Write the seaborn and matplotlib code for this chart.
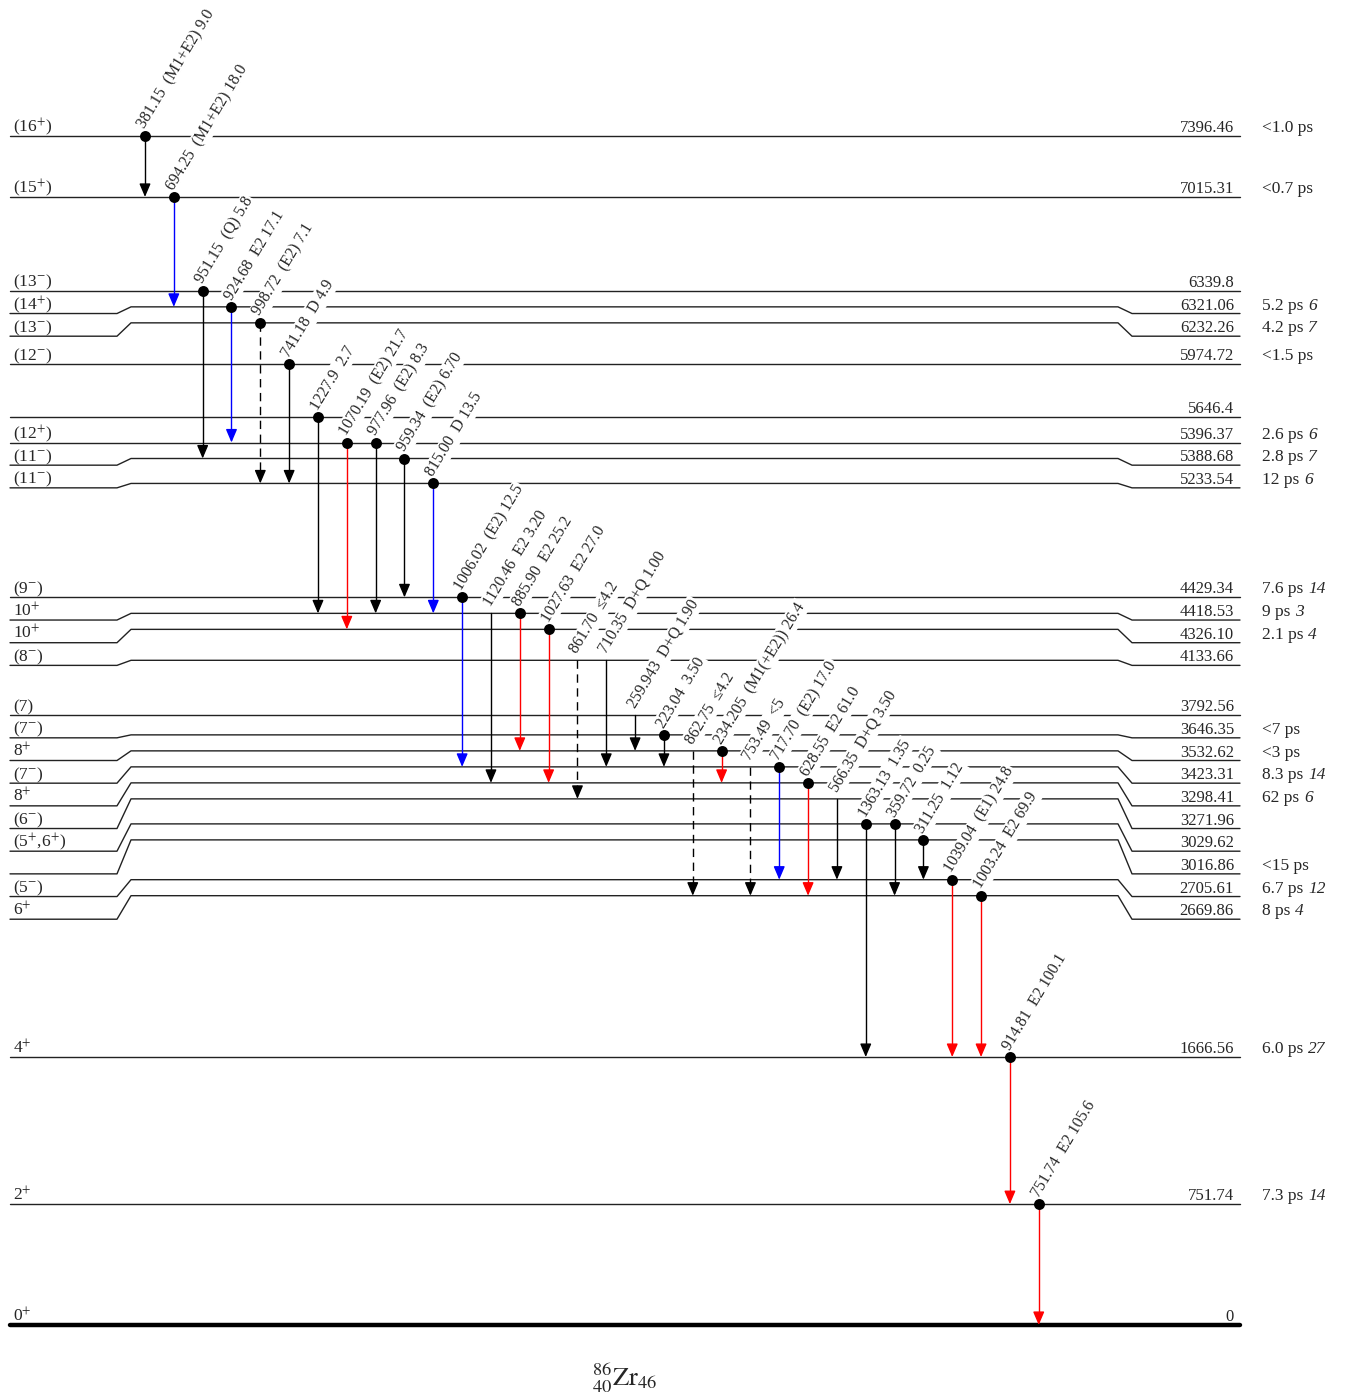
import numpy as np
import pandas as pd
import matplotlib
matplotlib.use("Agg")
import matplotlib.pyplot as plt
import seaborn as sns

# -------------------------------
# Level data (bottom -> top)
# -------------------------------
level_text = ["0", "751.74", "1666.56", "2669.86", "2705.61", "3016.86", "3029.62",
              "3271.96", "3298.41", "3423.31", "3532.62", "3646.35", "3792.56", "4133.66",
              "4326.10", "4418.53", "4429.34", "5233.54", "5388.68", "5396.37", "5646.4",
              "5974.72", "6232.26", "6321.06", "6339.8", "7015.31", "7396.46"]
spins = ["0$^{+}$", "2$^{+}$", "4$^{+}$", "6$^{+}$", "(5$^{-}$)", "", "(5$^{+}$,6$^{+}$)",
         "(6$^{-}$)", "8$^{+}$", "(7$^{-}$)", "8$^{+}$", "(7$^{-}$)", "(7)", "(8$^{-}$)",
         "10$^{+}$", "10$^{+}$", "(9$^{-}$)", "(11$^{-}$)", "(11$^{-}$)", "(12$^{+}$)", "",
         "(12$^{-}$)", "(13$^{-}$)", "(14$^{+}$)", "(13$^{-}$)", "(15$^{+}$)", "(16$^{+}$)"]
half_life = ["", "7.3 ps", "6.0 ps", "8 ps", "6.7 ps", "<15 ps", "", "", "62 ps", "8.3 ps",
             "<3 ps", "<7 ps", "", "", "2.1 ps", "9 ps", "7.6 ps", "12 ps", "2.8 ps", "2.6 ps",
             "", "<1.5 ps", "4.2 ps", "5.2 ps", "", "<0.7 ps", "<1.0 ps"]
half_life_err = ["", "14", "27", "4", "12", "", "", "", "6", "14", "", "", "", "", "4", "3",
                 "14", "6", "7", "6", "", "", "7", "6", "", "", ""]

# -------------------------------
# Gamma transitions (left -> right)
# -------------------------------
gamma_energy = ["381.15", "694.25", "951.15", "924.68", "998.72", "741.18", "1227.9",
                "1070.19", "977.96", "959.34", "815.00", "1006.02", "1120.46", "885.90",
                "1027.63", "861.70", "710.35", "259.943", "223.04", "862.75", "234.205",
                "753.49", "717.70", "628.55", "566.35", "1363.13", "359.72", "311.25",
                "1039.04", "1003.24", "914.81", "751.74"]
gamma_mult = ["(M1+E2)", "(M1+E2)", "(Q)", "E2", "(E2)", "D", "", "(E2)", "(E2)", "(E2)",
              "D", "(E2)", "E2", "E2", "E2", "", "D+Q", "D+Q", "", "", "(M1(+E2))", "",
              "(E2)", "E2", "D+Q", "", "", "", "(E1)", "E2", "E2", "E2"]
gamma_int = ["9.0", "18.0", "5.8", "17.1", "7.1", "4.9", "2.7", "21.7", "8.3", "6.70", "13.5",
             "12.5", "3.20", "25.2", "27.0", "\u22644.2", "1.00", "1.90", "3.50", "\u22644.2",
             "26.4", "<5", "17.0", "61.0", "3.50", "1.35", "0.25", "1.12", "24.8", "69.9",
             "100.1", "105.6"]
gamma_from = [26, 25, 24, 23, 22, 21, 20, 19, 19, 18, 17, 16, 15, 15, 14, 13, 13, 12, 11,
              10, 10, 9, 9, 8, 7, 6, 6, 5, 4, 3, 2, 1]
gamma_color = ["k", "b", "k", "b", "k", "k", "k", "r", "k", "k", "b", "b", "k", "r", "r", "k",
               "k", "k", "k", "k", "r", "k", "b", "r", "k", "k", "k", "k", "r", "r", "r", "r"]
gamma_dashed = [False, False, False, False, True, False, False, False, False, False, False,
                False, False, False, False, True, False, False, False, True, False, True,
                False, False, False, False, False, False, False, False, False, False]
gamma_dot = [True, True, True, True, True, True, True, True, True, True, True, True, False,
             True, True, False, False, False, True, False, True, False, True, True, False,
             True, True, True, True, True, True, True]

colors = {"k": "black", "b": "#0000ff", "r": "#ff0000"}

# -------------------------------
# Setup
# -------------------------------
sns.set_theme(style="white")
plt.rcParams["font.family"] = ["Liberation Serif", "DejaVu Serif"]
plt.rcParams["mathtext.fontset"] = "stix"

PX = 0.1608  # pixels per keV
fig = plt.figure(figsize=(13.51, 13.97), dpi=100)
ax = fig.add_axes([0, 0, 1, 1])

E = np.array([float(s) for s in level_text])

# line positions pushed up to keep min spacing, label positions pushed down
main = E.copy()
for i in range(1, len(E)):
    main[i] = max(E[i], main[i - 1] + 99.5)
lab = main.copy()
for i in range(len(E) - 2, -1, -1):
    lab[i] = min(main[i], lab[i + 1] - 141)

# -------------------------------
# Transitions
# -------------------------------
x0, dx = 145, 28.83
head = 11.5 / PX
rows = []
for k, eg in enumerate(gamma_energy):
    x = x0 + k * dx
    i0 = gamma_from[k]
    i1 = int(np.argmin(np.abs(E - (E[i0] - float(eg)))))
    y0, y1 = main[i0], main[i1]
    c = colors[gamma_color[k]]
    ls = (0, (6, 4)) if gamma_dashed[k] else "-"
    ax.plot([x, x], [y0, y1 + head * 0.5], color=c, lw=1.0, linestyle=ls, zorder=3)
    ax.annotate("", xy=(x, y1), xytext=(x, y1 + head),
                arrowprops=dict(arrowstyle="-|>,head_length=0.4,head_width=0.17",
                                color=c, lw=1.0, shrinkA=0, shrinkB=0, mutation_scale=20),
                zorder=3)
    label = eg + "  " + (gamma_mult[k] + " " if gamma_mult[k] else "") + gamma_int[k]
    ax.annotate(label, xy=(x, y0), xytext=(2.5, 3), textcoords="offset points",
                rotation=59, rotation_mode="anchor", ha="left", va="bottom",
                fontsize=11.5, zorder=2,
                bbox=dict(fc="white", ec="none", pad=1.0))
    if gamma_dot[k]:
        rows.append({"x": x, "y": y0})

dots = pd.DataFrame(rows)
sns.scatterplot(data=dots, x="x", y="y", color="black", s=62, linewidth=0,
                zorder=4, ax=ax, legend=False)
ax.set_xlim(0, 1351)
ax.set_ylim(-(1397 - 1325) / PX, 1325 / PX)
ax.axis("off")

# -------------------------------
# Levels
# -------------------------------
for i in range(len(E)):
    xs = [10, 117, 131, 1118, 1132, 1240]
    ys = [lab[i], lab[i], main[i], main[i], lab[i], lab[i]]
    if i == 0:
        ax.plot(xs, ys, color="black", lw=3.2, solid_capstyle="round", zorder=1)
    else:
        ax.plot(xs, ys, color="#222222", lw=1.0, zorder=1)
    yt = lab[i] + 4 / PX
    ax.text(13, yt, spins[i], ha="left", va="baseline", fontsize=12.5)
    ax.text(1234, yt, level_text[i], ha="right", va="baseline", fontsize=12)
    if half_life[i]:
        t = ax.text(1262, yt, half_life[i], ha="left", va="baseline", fontsize=12.5)
        if half_life_err[i]:
            ax.annotate(half_life_err[i], xy=(1, 0), xycoords=t, xytext=(3.5, 0),
                        textcoords="offset points", ha="left", va="bottom",
                        fontsize=12.5, style="italic")

ax.text(625, -(1378 - 1325) / PX, r"$^{86}_{40}\mathrm{Zr}_{46}$", ha="center",
        va="center", fontsize=19)

fig.savefig("out.png", dpi=100, facecolor="white")
